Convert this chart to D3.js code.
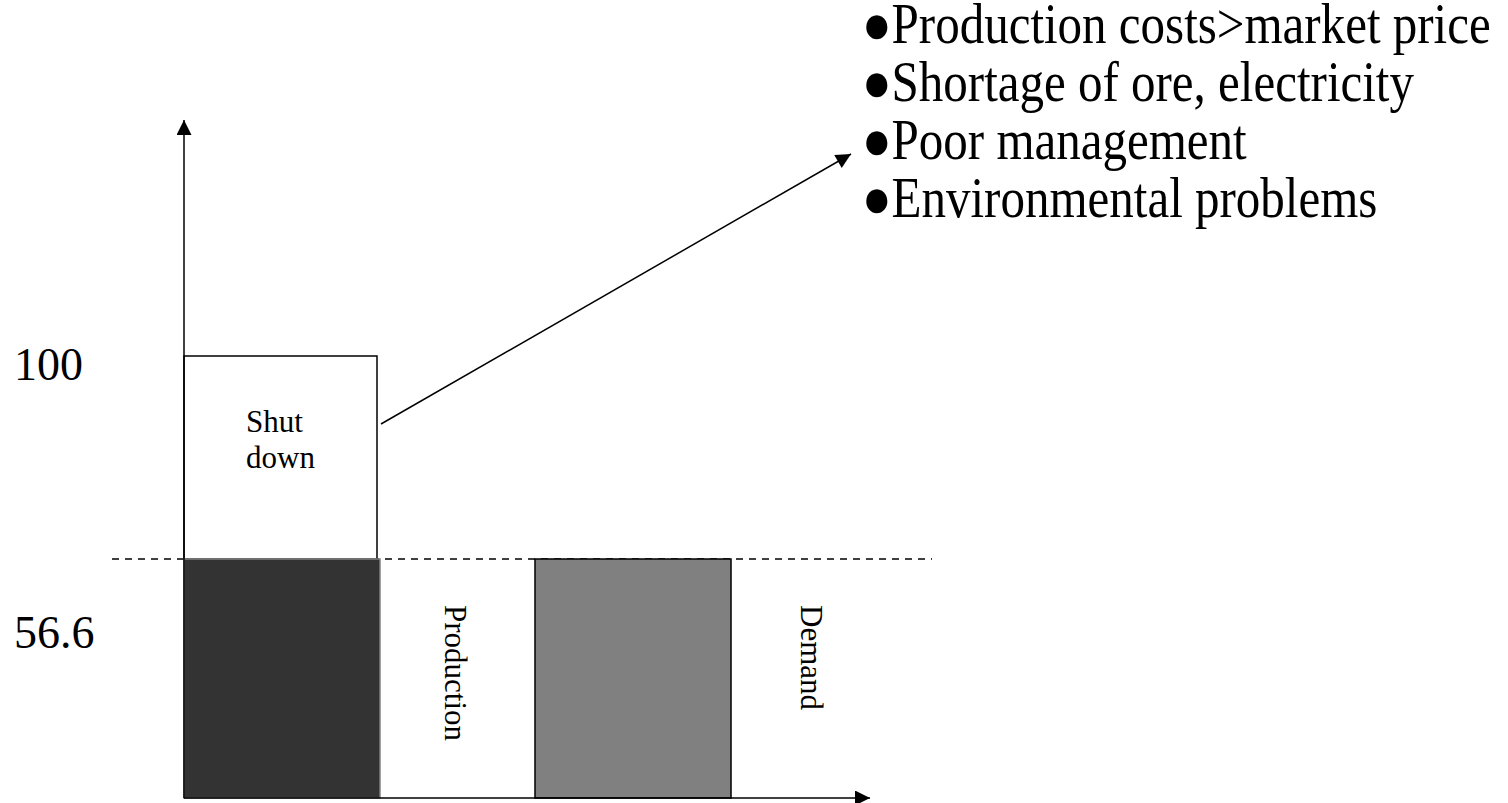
<!DOCTYPE html>
<html>
<head>
<meta charset="utf-8">
<script src="https://cdn.jsdelivr.net/npm/d3@7"></script>
<style>
  body { margin: 0; background: white; }
  text { font-family: "Liberation Serif", "Times New Roman", serif; fill: black; }
</style>
</head>
<body>
<div id="chart"></div>
<script>
// Define constants and variables
const width = 1508;
const height = 803;

const categories = ["Production", "Demand"];
const barValues = [56.6, 56.6];
const capacity = 100;
const shutLabel = ["Shut", "down"];
const tickValues = [100, 56.6];
const tickLabels = ["100", "56.6"];
const reasons = [
  "Production costs>market price",
  "Shortage of ore, electricity",
  "Poor management",
  "Environmental problems"
];

const darkFill = "#333333";
const greyFill = "#808080";

const svg = d3.select("#chart").append("svg")
  .attr("width", width)
  .attr("height", height);

// arrow heads
const defs = svg.append("defs");
defs.append("marker")
  .attr("id", "head")
  .attr("viewBox", "0 0 10 10")
  .attr("refX", 10).attr("refY", 5)
  .attr("markerUnits", "userSpaceOnUse")
  .attr("markerWidth", 16).attr("markerHeight", 15)
  .attr("orient", "auto")
  .append("path")
  .attr("d", "M0,0L10,5L0,10Z")
  .attr("fill", "black");

// scales (schematic: the two levels are not to linear scale in the original)
const y = d3.scaleLinear().domain([0, 56.6, 100]).range([798, 559, 356]);
const x = d3.scaleBand().domain(categories).range([184, 731])
  .paddingInner(0.4416).paddingOuter(0).align(0);

// dashed level line at production / demand
svg.append("line")
  .attr("x1", 112).attr("x2", 932)
  .attr("y1", y(barValues[0])).attr("y2", y(barValues[0]))
  .attr("stroke", "black")
  .attr("stroke-width", 1.5)
  .attr("stroke-dasharray", "7,6");

// shut down part of capacity
svg.append("rect")
  .attr("x", x("Production"))
  .attr("y", y(capacity))
  .attr("width", x.bandwidth() - 3)
  .attr("height", y(barValues[0]) - y(capacity))
  .attr("fill", "white")
  .attr("stroke", "black")
  .attr("stroke-width", 1.5);

svg.selectAll(".shut")
  .data(shutLabel)
  .enter().append("text")
  .attr("class", "shut")
  .attr("x", x("Production") + 62)
  .attr("y", (d, i) => 432 + i * 36)
  .style("font-size", "31px")
  .text(d => d);

// bars
svg.selectAll(".bar")
  .data(categories)
  .enter().append("rect")
  .attr("class", "bar")
  .attr("x", d => x(d))
  .attr("y", (d, i) => y(barValues[i]))
  .attr("width", x.bandwidth())
  .attr("height", (d, i) => y(0) - y(barValues[i]))
  .attr("fill", (d, i) => i === 0 ? darkFill : greyFill)
  .attr("stroke", (d, i) => i === 0 ? greyFill : "black")
  .attr("stroke-width", 1.5);

// rotated labels to the right of each bar
svg.selectAll(".cat")
  .data(categories)
  .enter().append("text")
  .attr("class", "cat")
  .attr("transform", d => `translate(${x(d) + x.bandwidth() + (d === "Demand" ? 70 : 65)},605) rotate(90)`)
  .style("font-size", "31px")
  .text(d => d);

// axes
svg.append("line")
  .attr("x1", x("Production")).attr("y1", y(0))
  .attr("x2", x("Production")).attr("y2", 120)
  .attr("stroke", "black").attr("stroke-width", 1.5)
  .attr("marker-end", "url(#head)");
svg.append("line")
  .attr("x1", x("Production")).attr("y1", y(0))
  .attr("x2", 870).attr("y2", y(0))
  .attr("stroke", "black").attr("stroke-width", 1.5)
  .attr("marker-end", "url(#head)");

// tick labels
svg.selectAll(".tick")
  .data(tickValues)
  .enter().append("text")
  .attr("class", "tick")
  .attr("x", 14)
  .attr("y", (d, i) => i === 0 ? y(d) + 24 : y(d) + 89)
  .style("font-size", "46px")
  .text((d, i) => tickLabels[i]);

// pointer from shut down box to the reasons
svg.append("line")
  .attr("x1", 381).attr("y1", 424)
  .attr("x2", 851).attr("y2", 154)
  .attr("stroke", "black").attr("stroke-width", 1.5)
  .attr("marker-end", "url(#head)");

// reasons list, slightly stretched vertically like the original
svg.selectAll(".reason")
  .data(reasons)
  .enter().append("text")
  .attr("class", "reason")
  .attr("transform", (d, i) => `translate(862,${43 + i * 58}) scale(0.98,1.12)`)
  .style("font-size", "50px")
  .text(d => "\u25CF" + d);
</script>
</body>
</html>
